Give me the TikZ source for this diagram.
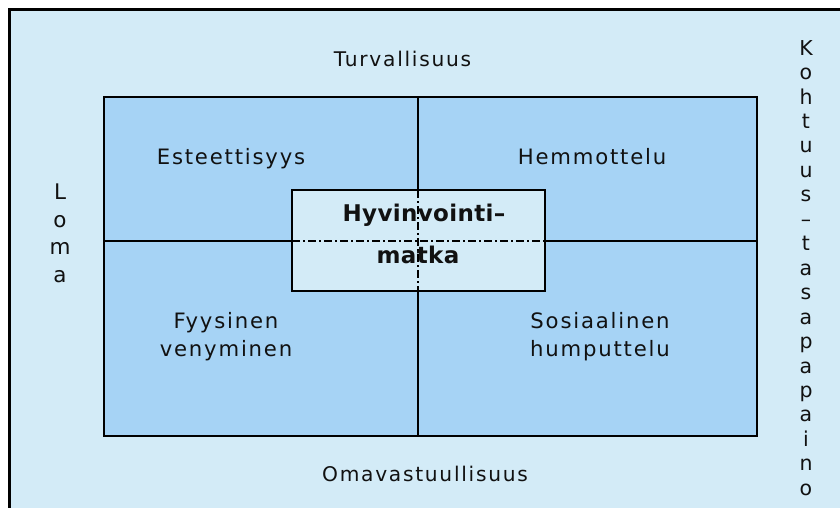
\documentclass[tikz,border=0pt]{standalone}
\usepackage{fontspec}
\setmainfont{DejaVu Sans}
\newfontfamily\lf[LetterSpace=8.5]{DejaVu Sans}
\newfontfamily\lfb[LetterSpace=1.5]{DejaVu Sans Bold}
\definecolor{bgblue}{HTML}{D3EBF7}
\definecolor{quadblue}{HTML}{A6D3F5}
\definecolor{txt}{HTML}{111111}
\begin{document}
\begin{tikzpicture}[x=1pt,y=-1pt,
  lbl/.style={inner sep=0, text=txt, font=\lf\fontsize{21.2}{28.4}\selectfont, align=center, anchor=base},
  outerlbl/.style={lbl, font=\lf\fontsize{20.2}{28}\selectfont},
  vlbl/.style={inner sep=0, text=txt, align=center, anchor=north},
  boldlbl/.style={inner sep=0, text=txt, font=\lfb\fontsize{23}{28}\selectfont, anchor=base},
  frame/.style={line width=3, fill=bgblue},
  quad/.style={line width=2.6, fill=quadblue},
  divider/.style={line width=1.8},
  centerbox/.style={line width=1.3, fill=bgblue},
  dashdot/.style={line width=1.4, dash pattern=on 8pt off 3pt on 2pt off 3pt}]
\useasboundingbox (0,0) rectangle (840,508);
\clip (0,0) rectangle (840,508);
\fill[white] (0,0) rectangle (840,508);
\draw[frame] (9.5,10) rectangle (870,540);
% main quadrant block
\coordinate (qnw) at (104,97);
\coordinate (qse) at (757,436);
\coordinate (vtop) at (418,97);
\coordinate (vbot) at (418,436);
\coordinate (hleft) at (104,241);
\coordinate (hright) at (757,241);
\draw[quad] (qnw) rectangle (qse);
\draw[divider] (vtop) -- (vbot);
\draw[divider] (hleft) -- (hright);
% centre box
\coordinate (cnw) at (292,190);
\coordinate (cse) at (545,291);
\coordinate (ctop) at (418,190);
\coordinate (cbot) at (418,291);
\coordinate (cleft) at (292,241);
\coordinate (cright) at (545,241);
\draw[centerbox] (cnw) rectangle (cse);
\draw[dashdot] (cleft) -- (cright);
\draw[dashdot] (ctop) -- (cbot);
\node[boldlbl] (hyv) at (424,221.7) {Hyvinvointi–};
\node[boldlbl] (matka) at (418,263.3) {matka};
% quadrant labels
\node[lbl] (est) at (231,164.5) {Esteettisyys};
\node[lbl] (hem) at (592,164.5) {Hemmottelu};
\node[lbl] (fyy) at (226,356.7) {Fyysinen\\venyminen};
\node[lbl] (sos) at (600,356.7) {Sosiaalinen\\humputtelu};
% outer labels
\node[outerlbl] (turv) at (402.5,66.7) {Turvallisuus};
\node[outerlbl] (oma) at (425,481) {Omavastuullisuus};
\node[vlbl, font=\fontsize{21.5}{27.5}\selectfont] (loma) at (60,184) {L\\o\\m\\a};
\node[vlbl, font=\fontsize{20.5}{24.45}\selectfont] (koh) at (806,40) {K\\o\\h\\t\\u\\u\\s\\–\\t\\a\\s\\a\\p\\a\\p\\a\\i\\n\\o};
\end{tikzpicture}
\end{document}
